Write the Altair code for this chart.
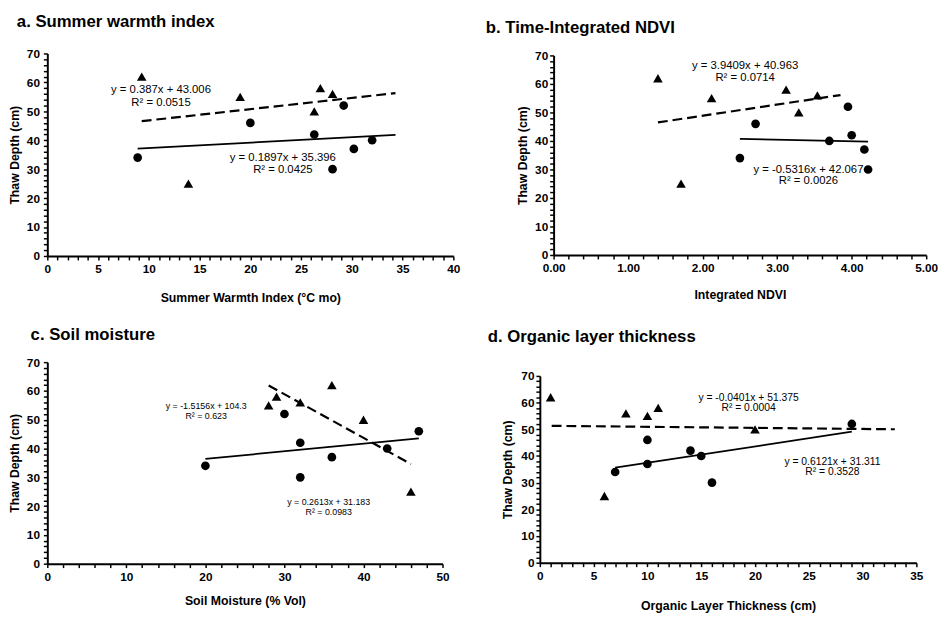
import altair as alt
import pandas as pd

FONT = "Liberation Sans"

# ---------------- data ----------------
# a. Summer warmth index
a_tri_x = [9.3, 13.9, 19.0, 26.3, 26.9, 28.1]
a_tri_y = [62, 25, 55, 50, 58, 56]
a_cir_x = [8.9, 20.0, 26.3, 28.1, 29.2, 30.2, 32.0]
a_cir_y = [34, 46, 42, 30, 52, 37, 40]
a_dash_x = [9.3, 34.3]
a_dash_y = [46.6, 56.3]
a_solid_x = [8.9, 34.3]
a_solid_y = [37.1, 41.9]
a_eq_text = ["y = 0.387x + 43.006", "R² = 0.0515", "y = 0.1897x + 35.396", "R² = 0.0425"]
a_eq_x = [11.2, 11.2, 23.2, 23.2]
a_eq_y = [57.2, 52.7, 33.9, 29.7]

# b. Time-Integrated NDVI
b_tri_x = [1.40, 1.71, 2.12, 3.12, 3.29, 3.54]
b_tri_y = [62, 25, 55, 58, 50, 56]
b_cir_x = [2.50, 2.71, 3.70, 3.95, 4.00, 4.17, 4.22]
b_cir_y = [34, 46, 40, 52, 42, 37, 30]
b_dash_x = [1.40, 3.85]
b_dash_y = [46.5, 56.1]
b_solid_x = [2.50, 4.22]
b_solid_y = [40.7, 39.8]
b_eq_text = ["y = 3.9409x + 40.963", "R² = 0.0714", "y = -0.5316x + 42.067", "R² = 0.0026"]
b_eq_x = [2.57, 2.57, 3.42, 3.42]
b_eq_y = [66.1, 62.0, 29.7, 25.8]

# c. Soil moisture
c_tri_x = [28, 29, 32, 36, 40, 46]
c_tri_y = [55, 58, 56, 62, 50, 25]
c_cir_x = [20, 30, 32, 32, 36, 43, 47]
c_cir_y = [34, 52, 42, 30, 37, 40, 46]
c_dash_x = [28, 46]
c_dash_y = [61.9, 34.6]
c_solid_x = [20, 47]
c_solid_y = [36.4, 43.5]
c_eq_text = ["y = -1.5156x + 104.3", "R² = 0.623", "y = 0.2613x + 31.183", "R² = 0.0983"]
c_eq_x = [20.1, 20.1, 35.6, 35.6]
c_eq_y = [54.7, 51.4, 21.4, 18.1]

# d. Organic layer thickness
d_tri_x = [1, 6, 8, 10, 11, 20]
d_tri_y = [62, 25, 56, 55, 58, 50]
d_cir_x = [7, 10, 10, 14, 15, 16, 29]
d_cir_y = [34, 46, 37, 42, 40, 30, 52]
d_dash_x = [1.1, 33.0]
d_dash_y = [51.3, 50.0]
d_solid_x = [7, 29]
d_solid_y = [35.6, 49.1]
d_eq_text = ["y = -0.0401x + 51.375", "R² = 0.0004", "y = 0.6121x + 31.311", "R² = 0.3528"]
d_eq_x = [19.4, 19.4, 27.2, 27.2]
d_eq_y = [61.6, 57.8, 37.8, 34.1]


def panel(title, title_dx, title_offset, xtitle, xmax, xstep, xmajor, xfmt,
          tri_x, tri_y, cir_x, cir_y, dash_x, dash_y, solid_x, solid_y,
          eq_text, eq_x, eq_y, eq_size, w, h, top_gap, y_title_pad, y_label_pad, x_title_pad):
    n = int(round(xmax / xstep))
    xvals = [round(i * xstep, 4) for i in range(n + 1)]
    yvals = list(range(0, 71, 2))
    xscale = alt.Scale(domain=[0, xmax], nice=False, zero=False)
    yscale = alt.Scale(domain=[0, 70], nice=False, range=[h, top_gap])
    xaxis = alt.Axis(
        values=xvals, title=xtitle, grid=False, labelFlush=False, labelOverlap=False,
        labelExpr=f"abs(datum.value/{xmajor} - round(datum.value/{xmajor})) < 0.001 ? format(datum.value, '{xfmt}') : ''",
        titlePadding=x_title_pad, labelPadding=4,
    )
    yaxis = alt.Axis(
        values=yvals, title="Thaw Depth (cm)", grid=False, labelOverlap=False,
        labelExpr="datum.value % 10 === 0 ? format(datum.value, 'd') : ''",
        titlePadding=y_title_pad, labelPadding=y_label_pad,
    )
    tri = pd.DataFrame({"x": tri_x, "y": tri_y})
    cir = pd.DataFrame({"x": cir_x, "y": cir_y})
    dash = pd.DataFrame({"x": dash_x, "y": dash_y})
    solid = pd.DataFrame({"x": solid_x, "y": solid_y})
    eq = pd.DataFrame({"x": eq_x, "y": eq_y, "t": eq_text})

    X = alt.X("x:Q", scale=xscale, axis=xaxis)
    Y = alt.Y("y:Q", scale=yscale, axis=yaxis)

    tris = alt.Chart(tri).mark_point(shape="triangle-up", filled=True, color="black",
                                     size=95, opacity=1).encode(x=X, y=Y)
    circles = alt.Chart(cir).mark_circle(color="black", size=78, opacity=1).encode(x=X, y=Y)
    dline = alt.Chart(dash).mark_line(color="black", strokeWidth=2.2,
                                      strokeDash=[10, 5]).encode(x=X, y=Y)
    sline = alt.Chart(solid).mark_line(color="black", strokeWidth=1.8).encode(x=X, y=Y)
    text = alt.Chart(eq).mark_text(font=FONT, fontSize=eq_size, color="black").encode(
        x=X, y=Y, text="t:N")
    return alt.layer(tris, circles, dline, sline, text).properties(
        width=w, height=h,
        title=alt.TitleParams(title, anchor="start", frame="group", dx=title_dx,
                              offset=title_offset, fontSize=17, fontWeight="bold",
                              font=FONT, color="black"),
    )


pa = panel("a. Summer warmth index", -31, 17, "Summer Warmth Index (°C mo)", 40, 1, 5, "d",
           a_tri_x, a_tri_y, a_cir_x, a_cir_y, a_dash_x, a_dash_y, a_solid_x, a_solid_y,
           a_eq_text, a_eq_x, a_eq_y, 11.5, 413, 206, 0, 5, 4, 17)
pb = panel("b. Time-Integrated NDVI", -69, 13, "Integrated NDVI", 5, 0.2, 1, ".2f",
           b_tri_x, b_tri_y, b_cir_x, b_cir_y, b_dash_x, b_dash_y, b_solid_x, b_solid_y,
           b_eq_text, b_eq_x, b_eq_y, 11.5, 379, 205, 2, 5, 2, 15)
pc = panel("c. Soil moisture", -17, 13, "Soil Moisture (% Vol)", 50, 2, 10, "d",
           c_tri_x, c_tri_y, c_cir_x, c_cir_y, c_dash_x, c_dash_y, c_solid_x, c_solid_y,
           c_eq_text, c_eq_x, c_eq_y, 9, 402, 205, 0, 5, 4, 13)
pd_ = panel("d. Organic layer thickness", -53, 16, "Organic Layer Thickness (cm)", 35, 1, 5, "d",
            d_tri_x, d_tri_y, d_cir_x, d_cir_y, d_dash_x, d_dash_y, d_solid_x, d_solid_y,
            d_eq_text, d_eq_x, d_eq_y, 10.5, 383, 204, 14, 6, 2, 19)

row1 = alt.hconcat(pa, pb, spacing=26)
row2 = alt.hconcat(pc, pd_, spacing=39)
chart = alt.vconcat(row1, row2, spacing=22).properties(padding=0).configure_view(
    stroke=None
).configure_axis(
    domainColor="black", domainWidth=2, tickColor="black", tickWidth=1.5, tickSize=4,
    labelFont=FONT, labelFontSize=12, labelFontWeight="bold", labelColor="black",
    titleFont=FONT, titleFontSize=12.5, titleFontWeight="bold",
    titleColor="black",
)

chart.save("out.html", embed_options={"renderer": "svg", "actions": False})
